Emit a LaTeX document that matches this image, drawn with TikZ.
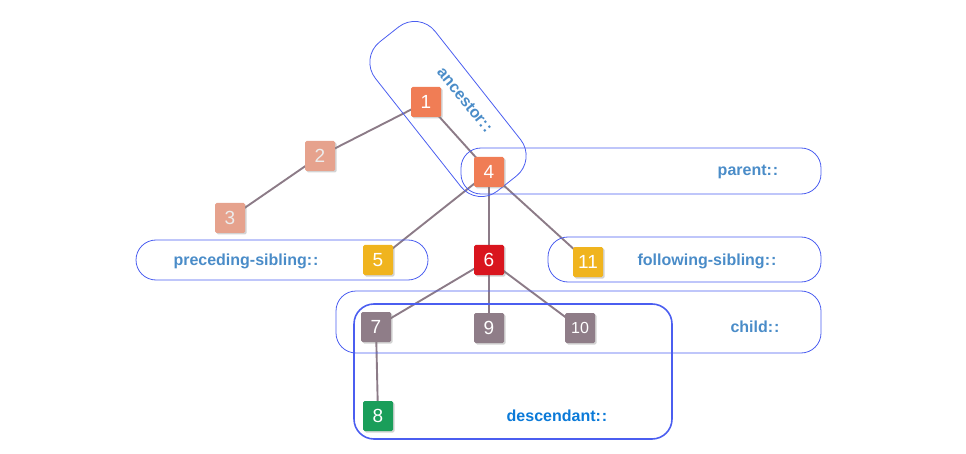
\documentclass[tikz,border=0pt]{standalone}
\usepackage{fontspec}
\setsansfont{Liberation Sans}
\usepackage{xcolor}
\usetikzlibrary{shadows,backgrounds}
\definecolor{edgec}{HTML}{8C7B87}
\definecolor{boxc}{HTML}{4B5EF0}
\definecolor{labc}{HTML}{4A8CC8}
\definecolor{descc}{HTML}{0B7AD8}
\definecolor{orng}{HTML}{F07D55}
\definecolor{pale}{HTML}{E6A28D}
\definecolor{yell}{HTML}{F0B41E}
\definecolor{redc}{HTML}{D9151E}
\definecolor{mauv}{HTML}{8F7D88}
\definecolor{grn}{HTML}{1A9E5A}

\begin{document}
\begin{tikzpicture}[x=1pt, y=1pt, font=\sffamily,
  sq/.style={minimum size=30pt, inner sep=0pt, rounded corners=1.5pt, text=white,
    font=\sffamily\fontsize{19}{19}\selectfont,
    drop shadow={opacity=0.35, shadow xshift=1.5pt, shadow yshift=-1.5pt}},
  axbox/.style={draw=boxc, line width=0.8pt, rounded corners=20pt, inner sep=0pt},
  axlbl/.style={text=labc, inner sep=1pt, font=\sffamily\bfseries\fontsize{16}{16}\selectfont},
  lnk/.style={draw=edgec, line width=1.9pt}]
\useasboundingbox (0,0) rectangle (966,453);
% axis boxes
\node[axbox, rotate=-51.7, minimum width=190pt, minimum height=76pt, rounded corners=26pt] (ancbox) at (448,344) {};
\node[axbox, minimum width=360pt, minimum height=46pt] (parbox) at (641,282) {};
\node[axbox, minimum width=292pt, minimum height=40pt] (precbox) at (282,193) {};
\node[axbox, minimum width=273pt, minimum height=45pt] (follbox) at (684.5,193.5) {};
\node[axbox, minimum width=485pt, minimum height=62pt] (chbox) at (578.5,131) {};
\node[axbox, line width=1.6pt, minimum width=318pt, minimum height=135pt] (descbox) at (513,81.5) {};
% axis labels
\node[axlbl, rotate=-51] (anclbl) at (465,353) {ancestor:\kern1pt:};
\node[axlbl] (parlbl) at (748,281) {parent:\kern1pt:};
\node[axlbl] (preclbl) at (246,192) {preceding-sibling:\kern1pt:};
\node[axlbl] (foll) at (707,192) {following-sibling:\kern1pt:};
\node[axlbl] (chlbl) at (755,126) {child:\kern1pt:};
\node[axlbl, text=descc] (desclbl) at (557,37) {descendant:\kern1pt:};
% tree nodes
\node[sq, fill=orng] (n1) at (426,351) {1};
\node[sq, fill=pale, text=white!85!gray] (n2) at (320,297) {2};
\node[sq, fill=pale, text=white!85!gray] (n3) at (230,235) {3};
\node[sq, fill=orng] (n4) at (489,281) {4};
\node[sq, fill=yell] (n5) at (378,193) {5};
\node[sq, fill=redc] (n6) at (489,193) {6};
\node[sq, fill=yell] (n11) at (588,191) {11};
\node[sq, fill=mauv] (n7) at (376,126) {7};
\node[sq, fill=mauv] (n9) at (489,125) {9};
\node[sq, fill=mauv, font=\sffamily\fontsize{16}{16}\selectfont] (n10) at (580,125) {10};
\node[sq, fill=grn] (n8) at (378,37) {8};
% links
\begin{pgfonlayer}{background}
\draw[lnk] (n1.center) -- (n2.center) -- (n3.center);
\draw[lnk] (n1.center) -- (n4.center);
\draw[lnk] (n4.center) -- (n5.center);
\draw[lnk] (n4.center) -- (n6.center);
\draw[lnk] (n4.center) -- (n11.center);
\draw[lnk] (n6.center) -- (n7.center);
\draw[lnk] (n6.center) -- (n9.center);
\draw[lnk] (n6.center) -- (n10.center);
\draw[lnk] (n7.center) -- (n8.center);
\end{pgfonlayer}
\end{tikzpicture}
\end{document}
